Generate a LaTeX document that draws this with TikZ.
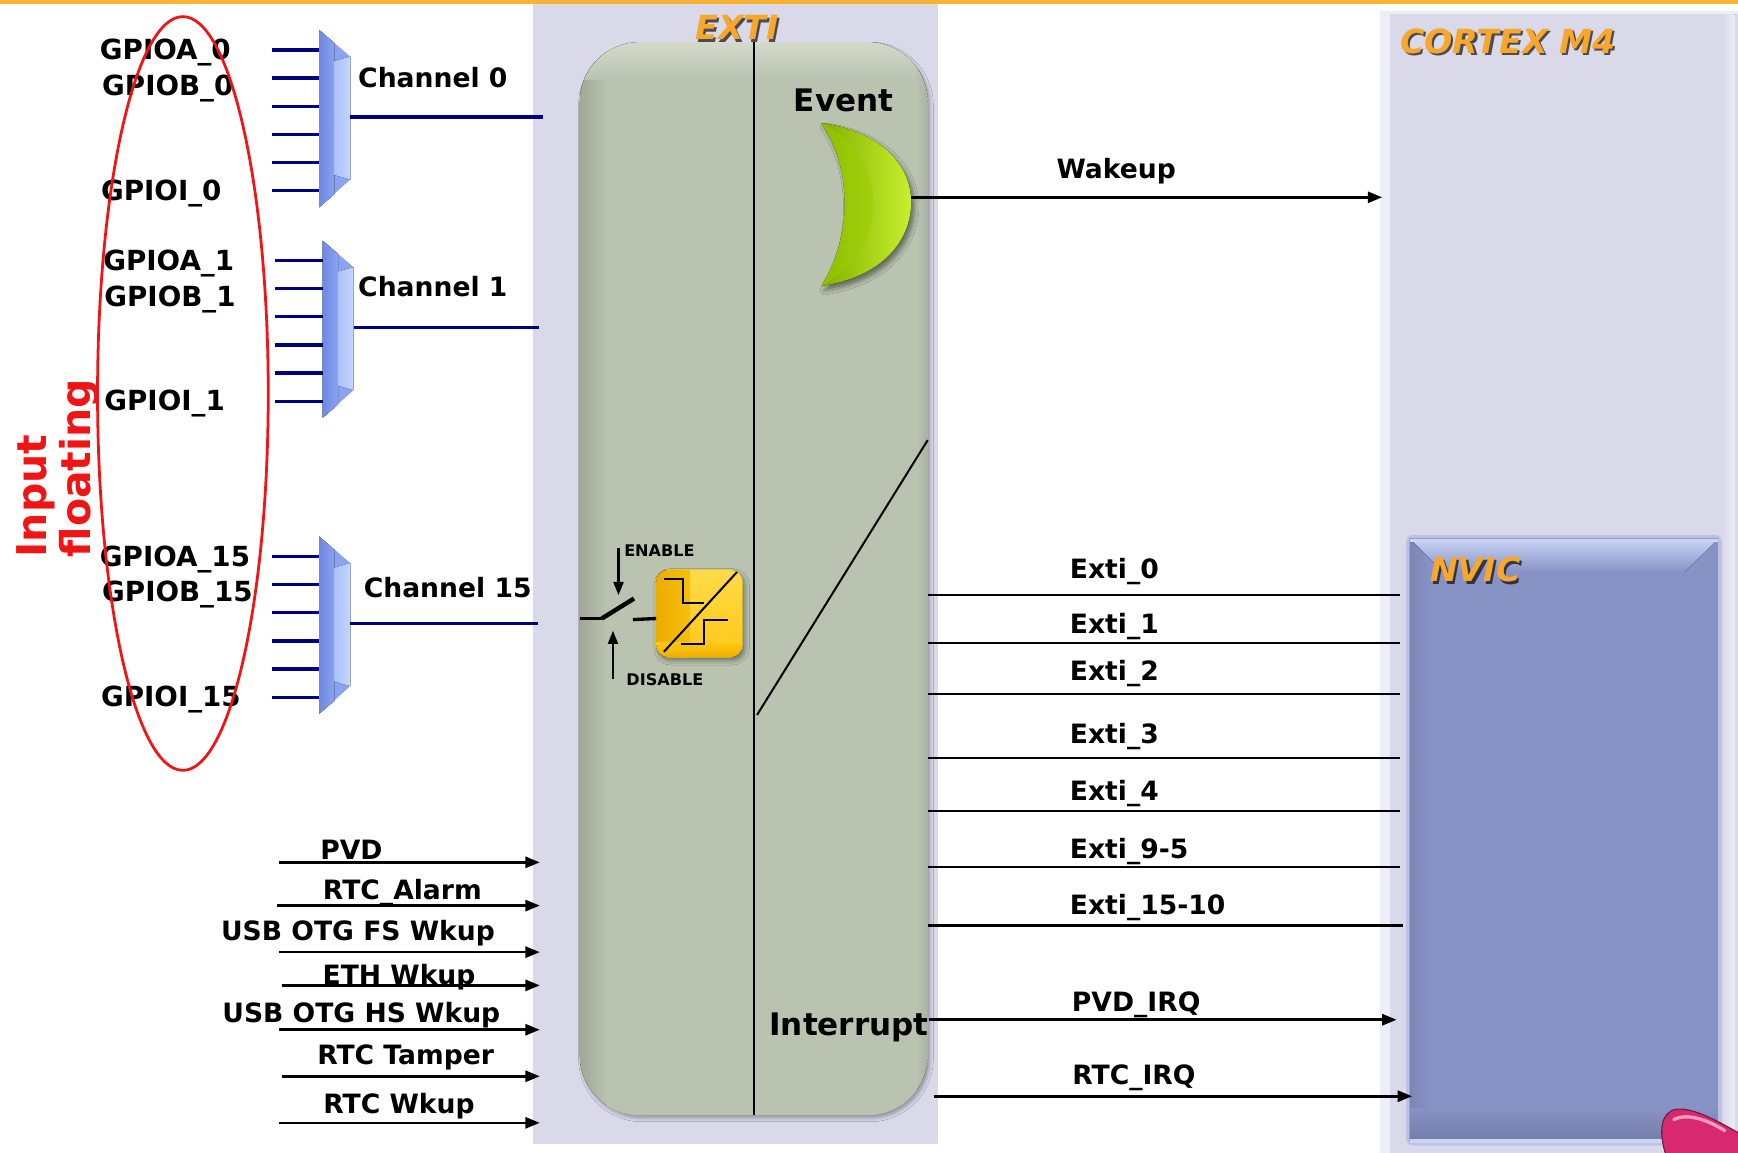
\documentclass[tikz,border=0pt]{standalone}
\usepackage{fontspec}
\setmainfont{DejaVu Sans}
\usetikzlibrary{arrows.meta,shadows.blur}

\definecolor{topline}{HTML}{F9B233}
\definecolor{panel}{HTML}{D9D9EA}
\definecolor{panellight}{HTML}{EEEEF8}
\definecolor{boxgreen}{HTML}{B9C3B0}
\definecolor{boxgreendark}{HTML}{A0A896}
\definecolor{boxgreenlight}{HTML}{D4DACB}
\definecolor{navyln}{HTML}{000080}
\definecolor{muxdark}{HTML}{6F88E2}
\definecolor{muxmid}{HTML}{8AA3F0}
\definecolor{muxlight}{HTML}{C2D6FF}
\definecolor{titleorange}{HTML}{F7A82C}
\definecolor{moonlight}{HTML}{C8F02E}
\definecolor{moonmid}{HTML}{9ACC00}
\definecolor{moondark}{HTML}{82B000}
\definecolor{iconyellow}{HTML}{FFC814}
\definecolor{icontop}{HTML}{FFDA4A}
\definecolor{icondark}{HTML}{EAAE00}
\definecolor{nvicfill}{HTML}{8792C5}
\definecolor{nvictop}{HTML}{CAD5F6}
\definecolor{nvicglow}{HTML}{A9B3E3}
\definecolor{markred}{HTML}{F01414}
\definecolor{blobpink}{HTML}{D8286F}
\definecolor{blobdark}{HTML}{6E1A3A}
\definecolor{blobhi}{HTML}{F29CC0}

\newcommand\lblfont{\bfseries\fontsize{24}{28}\selectfont}
\newcommand\gpiofont{\bfseries\fontsize{25}{30}\selectfont}
\newcommand\bigfont{\bfseries\fontsize{28}{33}\selectfont}
\newcommand\smallfont{\bfseries\fontsize{14.5}{17}\selectfont}
\newcommand\titlefont{\bfseries\itshape\fontsize{30}{36}\selectfont}
\newcommand\redfont{\bfseries\fontsize{37}{42}\selectfont}

\begin{document}
\begin{tikzpicture}[x=1pt,y=-1pt,
  lbl/.style={font=\lblfont, inner sep=0pt, text height=17.5pt, text depth=0pt},
  gpio/.style={font=\gpiofont, inner sep=0pt, text height=18.2pt, text depth=0pt, anchor=west},
  biglbl/.style={font=\bigfont, inner sep=0pt, text height=20.4pt, text depth=0pt},
  tinylbl/.style={font=\smallfont, inner sep=0pt, text height=10.6pt, text depth=0pt, anchor=west},
  ttl/.style={font=\titlefont, inner sep=0pt, text height=21.9pt, text depth=0pt, text=titleorange},
  ttlshade/.style={ttl, text=black, opacity=0.65},
  redlbl/.style={font=\redfont, text=markred, inner sep=0pt, rotate=90, anchor=base west},
  inwire/.style={navyln, line width=3pt},
  wire/.style={black, line width=2pt},
  sigarrow/.style={black, line width=2.3pt, -{Triangle[length=13pt,width=10pt]}},
  mux/.pic={
    \fill[muxmid] (0,0) -- (28,24) -- (28,135) -- (0,160) -- cycle;
    \fill[left color=muxdark, right color=muxmid] (0,0) -- (14,12) -- (14,148) -- (0,160) -- cycle;
    \fill[left color=muxlight!60!muxmid, right color=muxlight] (14,28) -- (28,24) -- (28,135) -- (14,131) -- cycle;
    \coordinate (-out) at (28,78.5);
    \foreach \k in {1,...,6} {\coordinate (-in\k) at (0,{18+25.4*(\k-1)});}
  },
]
\useasboundingbox (0,0) rectangle (1568,1040);
\clip (0,0) rectangle (1568,1040);

% orange rule along the top
\fill[topline] (0,0) rectangle (1568,3.5);

% EXTI background panel
\fill[panel] (481,3.5) rectangle (846,1032);

% CORTEX M4 panel
\fill[panel] (1245,10) rectangle (1568,1040);
\fill[panellight] (1245,10) rectangle (1254,1040);
\fill[panellight] (1245,10) rectangle (1568,13);
\fill[left color=panel, right color=panellight] (1554,13) rectangle (1565,1040);
\node[ttlshade, anchor=west] at (1265,39) {CORTEX M4};
\node[ttl, anchor=west] (cortex) at (1263,37) {CORTEX M4};

% NVIC block
\draw[nvicglow, line width=7pt, opacity=0.6, rounded corners=3pt] (1272,486) rectangle (1550,1030);
\fill[nvicfill] (1272,486) rectangle (1550,1030);
\fill[top color=nvictop, bottom color=nvicfill] (1272,486) -- (1550,486) -- (1520,516) -- (1302,516) -- cycle;
\fill[left color=nvicfill!92!black, right color=nvicfill] (1272,486) -- (1290,504) -- (1290,1012) -- (1272,1030) -- cycle;
\fill[top color=nvicfill, bottom color=nvicfill!86!black] (1272,1000) rectangle (1550,1028);
\fill[nvictop] (1272,1028) rectangle (1550,1031);
\fill[nvictop] (1272,486) rectangle (1550,489);
\node[ttlshade, anchor=west] at (1292,516) {NVIC};
\node[ttl, anchor=west] (nvic) at (1290,514) {NVIC};

% EXTI body
\fill[boxgreen, rounded corners=54pt,
  blur shadow={shadow xshift=2pt, shadow yshift=-3pt, shadow blur radius=3pt, shadow opacity=30}]
  (523,38) rectangle (837,1006);
\begin{scope}
  \clip[rounded corners=54pt] (523,38) rectangle (837,1006);
  \fill[left color=boxgreendark, right color=boxgreen] (523,38) rectangle (548,1006);
  \fill[top color=boxgreenlight, bottom color=boxgreen] (523,38) rectangle (837,72);
  \fill[left color=boxgreen, right color=boxgreendark!60!boxgreen] (827,38) rectangle (837,1006);
\end{scope}
\node[ttlshade] at (667,27) {EXTI};
\node[ttl] (exti) at (665,25) {EXTI};

% divider between event and interrupt paths
\coordinate (divtop) at (680,38);
\coordinate (divbot) at (680,1006);
\draw[black, line width=2pt] (divtop) -- (divbot);

% event crescent
\fill[left color=moondark, right color=moonlight,
  blur shadow={shadow xshift=3pt, shadow yshift=-4pt, shadow blur radius=4pt, shadow opacity=45}]
  (741,111) .. controls (795,118) and (822,150) .. (822,182)
  .. controls (822,218) and (795,250) .. (741,258)
  .. controls (757,232) and (762,206) .. (762,184)
  .. controls (762,160) and (757,135) .. (741,111) -- cycle;
\fill[moonmid, opacity=0.55]
  (741,111) .. controls (775,128) and (788,156) .. (788,184)
  .. controls (788,214) and (775,240) .. (741,258)
  .. controls (757,232) and (762,206) .. (762,184)
  .. controls (762,160) and (757,135) .. (741,111) -- cycle;
\coordinate (moon) at (822,178);
\node[biglbl] (event) at (761,90) {Event};
\node[biglbl] (interrupt) at (766,924) {Interrupt};

% edge detector icon
\fill[iconyellow, rounded corners=11pt,
  blur shadow={shadow xshift=2pt, shadow yshift=-3pt, shadow blur radius=4pt, shadow opacity=40}]
  (592,514) rectangle (670,593);
\begin{scope}
  \clip[rounded corners=11pt] (592,514) rectangle (670,593);
  \fill[top color=icontop, bottom color=iconyellow] (592,514) rectangle (670,593);
  \fill[left color=icondark, right color=icondark!40!iconyellow] (592,514) rectangle (622,593);
  \fill[top color=iconyellow, bottom color=icondark] (592,580) rectangle (670,593);
\end{scope}
\coordinate (icon) at (592,558);
\draw[black, line width=1.8pt] (599,588) -- (665,516);
\draw[black, line width=1.8pt] (599,522) -- (616,522) -- (616,544) -- (635,544);
\draw[black, line width=1.8pt] (614,581) -- (635,581) -- (635,559) -- (657,559);

% enable switch
\coordinate (swin) at (523,558);
\coordinate (swpivot) at (543,558);
\coordinate (swtip) at (572,540);
\coordinate (swout) at (571,559);
\draw[black, line width=3pt] (swin) -- (swpivot);
\draw[black, line width=4pt] (swpivot) -- (swtip);
\draw[black, line width=3pt] (swout) -- (icon);
\coordinate (ena) at (558,494);
\coordinate (enb) at (558,537);
\coordinate (disa) at (553,613);
\coordinate (disb) at (553,569);
\draw[black, line width=2pt, -{Triangle[length=12pt,width=9pt]}] (ena) -- (enb);
\draw[black, line width=2pt, -{Triangle[length=12pt,width=9pt]}] (disa) -- (disb);
\node[tinylbl] (enable) at (563,497) {ENABLE};
\node[tinylbl] (disable) at (565,613) {DISABLE};

% fan-out of the interrupt lines
\coordinate (fanlo) at (683,645);
\coordinate (fanhi) at (837,397);
\draw[black, line width=1.8pt] (fanlo) -- (fanhi);

% GPIO multiplexers
\pic (m0) at (288,27) {mux};
\pic (m1) at (291,217) {mux};
\pic (m15) at (288,484) {mux};
\foreach \m in {m0, m1, m15} {
  \foreach \k in {1,...,6} {
    \coordinate (\m-src\k) at ([xshift=-43pt]\m-in\k);
    \draw[inwire] (\m-src\k) -- (\m-in\k);
  }
}
\coordinate (ch0end) at (490,105.5);
\coordinate (ch1end) at (486,295.5);
\coordinate (ch15end) at (485,562.5);
\draw[inwire] (m0-out) -- (ch0end);
\draw[inwire] (m1-out) -- (ch1end);
\draw[inwire] (m15-out) -- (ch15end);
\node[lbl, anchor=west] (ch0) at (323,70) {Channel 0};
\node[lbl, anchor=west] (ch1) at (323,259) {Channel 1};
\node[lbl, anchor=west] (ch15) at (328,530) {Channel 15};

% GPIO pin labels
\node[gpio] (ga0) at (90,45) {GPIOA\_0};
\node[gpio] (gb0) at (92,77) {GPIOB\_0};
\node[gpio] (gi0) at (91,172) {GPIOI\_0};
\node[gpio] (ga1) at (93,235) {GPIOA\_1};
\node[gpio] (gb1) at (94,267) {GPIOB\_1};
\node[gpio] (gi1) at (94,361) {GPIOI\_1};
\node[gpio] (ga15) at (90,502) {GPIOA\_15};
\node[gpio] (gb15) at (92,534) {GPIOB\_15};
\node[gpio] (gi15) at (91,628) {GPIOI\_15};

% floating-input marking
\draw[markred, line width=2.5pt] (165,355) ellipse [x radius=77, y radius=340];
\node[redlbl] (inlbl) at (42,503) {Input};
\node[redlbl] (fllbl) at (82,503) {floating};

% other wakeup sources
\foreach \name/\txt/\lx/\ly/\sx/\ay in {
    pvd/PVD/317/767/252/778,
    alarm/RTC\_Alarm/363/803/250/817,
    usbfs/USB OTG FS Wkup/323/840/252/859,
    eth/ETH Wkup/360/879/254/889,
    usbhs/USB OTG HS Wkup/326/914/252/929,
    tamper/RTC Tamper/366/952/254/971,
    rtcw/RTC Wkup/360/996/252/1013} {
  \node[lbl] (\name) at (\lx,\ly) {\txt};
  \coordinate (\name-s) at (\sx,\ay);
  \coordinate (\name-e) at (487,\ay);
  \draw[sigarrow] (\name-s) -- (\name-e);
}

% event output
\coordinate (wakeend) at (1247,178);
\draw[sigarrow] (moon) -- (wakeend);
\node[lbl] (wakeup) at (1007,152) {Wakeup};

% interrupt lines into the NVIC
\foreach \name/\txt/\ly/\wy/\ex in {
    e0/Exti\_0/513/537/1263,
    e1/Exti\_1/563/580/1263,
    e2/Exti\_2/605/626/1263,
    e3/Exti\_3/662/684/1263,
    e4/Exti\_4/713/732/1263,
    e95/Exti\_9-5/766/782/1263,
    e1510/Exti\_15-10/816/835/1266} {
  \node[lbl, anchor=west] (\name) at (965,\ly) {\txt};
  \coordinate (\name-s) at (837,\wy);
  \coordinate (\name-e) at (\ex,\wy);
  \draw[wire] (\name-s) -- (\name-e);
}
\coordinate (pvdirq-s) at (838,920);
\coordinate (pvdirq-e) at (1260,920);
\draw[sigarrow] (pvdirq-s) -- (pvdirq-e);
\node[lbl] (pvdirq) at (1025,904) {PVD\_IRQ};
\coordinate (rtcirq-s) at (843,989);
\coordinate (rtcirq-e) at (1274,989);
\draw[sigarrow] (rtcirq-s) -- (rtcirq-e);
\node[lbl] (rtcirq) at (1023,970) {RTC\_IRQ};

% pointer blob in the corner
\fill[blobpink, draw=blobdark, line width=1pt]
  (1575,1026) .. controls (1548,1010) and (1522,996) .. (1508,1002)
  .. controls (1497,1008) and (1497,1026) .. (1504,1045) -- (1575,1045) -- cycle;
\draw[blobhi, line width=3pt, line cap=round]
  (1510,1010) .. controls (1522,1004) and (1540,1010) .. (1556,1020);
\end{tikzpicture}
\end{document}
